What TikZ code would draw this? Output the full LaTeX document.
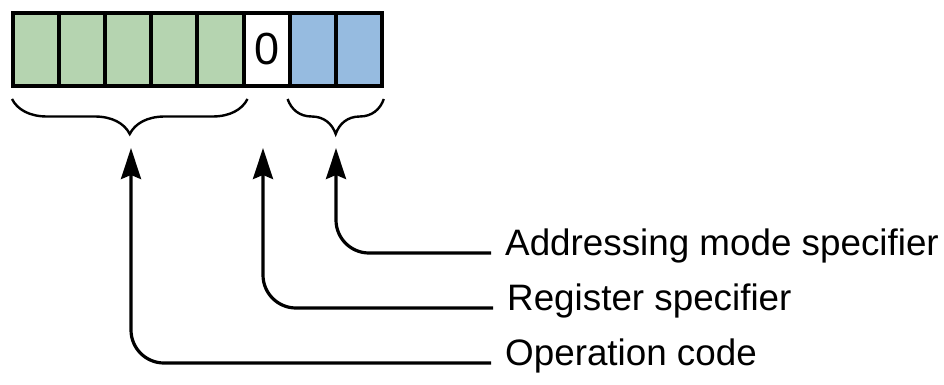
\documentclass[tikz,border=0pt]{standalone}
\usepackage{fontspec}
\setmainfont{Liberation Sans}
\usetikzlibrary{positioning,calc,arrows.meta,decorations.pathreplacing}
\definecolor{opgreen}{RGB}{181,212,176}
\definecolor{modeblue}{RGB}{150,187,224}
\tikzset{font=\fontsize{36.8}{42}\selectfont}

\begin{document}
\begin{tikzpicture}[x=1pt, y=-1pt]
	\useasboundingbox (0,0) rectangle (944,385);
	\begin{scope}
		\tikzstyle{every node}=[inner sep=0pt]
		\tikzstyle{cell}=[draw, line width=4pt, minimum width=46.1pt, minimum height=73pt]
		\tikzstyle{brc}=[decorate, decoration={brace, mirror, amplitude=35pt}, line width=2.4pt]
		\tikzstyle{conn}=[line width=3.2pt, rounded corners=33pt, shorten <=14pt, -{Stealth[length=31pt, width=20pt, inset=4pt]}]
		\tikzstyle{lbl}=[anchor=west, text height=0.72em, text depth=0.2em]

		% instruction word
		\foreach \i/\col in {1/opgreen, 2/opgreen, 3/opgreen, 4/opgreen, 5/opgreen, 7/modeblue, 8/modeblue}
			\node[cell, fill=\col] (c\i) at ({13+46.1*(\i-0.5)}, 49.5) {};
		\node[cell, fill=white, font=\fontsize{45}{50}\selectfont] (c6) at ({13+46.1*5.5}, 49.5) {0};

		% braces
		\draw [brc] ($(c1.south west)+(1,11)$) to ($(c5.south east)+(2,11)$);
		\draw [brc] ($(c7.south west)+(0,11)$) to ($(c8.south east)+(0,11)$);

		\coordinate (optip) at (131, 148);
		\coordinate (regtip) at (263, 148);
		\coordinate (modetip) at (336, 148);

		\node[lbl] (mode) at (505, 253) {Addressing mode specifier};
		\node[lbl] (reg) at (507, 308) {Register specifier};
		\node[lbl] (op) at (505, 363) {Operation code};

		\draw [conn] (mode.west) -| (modetip);
		\draw [conn] (reg.west) -| (regtip);
		\draw [conn] (op.west) -| (optip);
	\end{scope}
\end{tikzpicture}
\end{document}
